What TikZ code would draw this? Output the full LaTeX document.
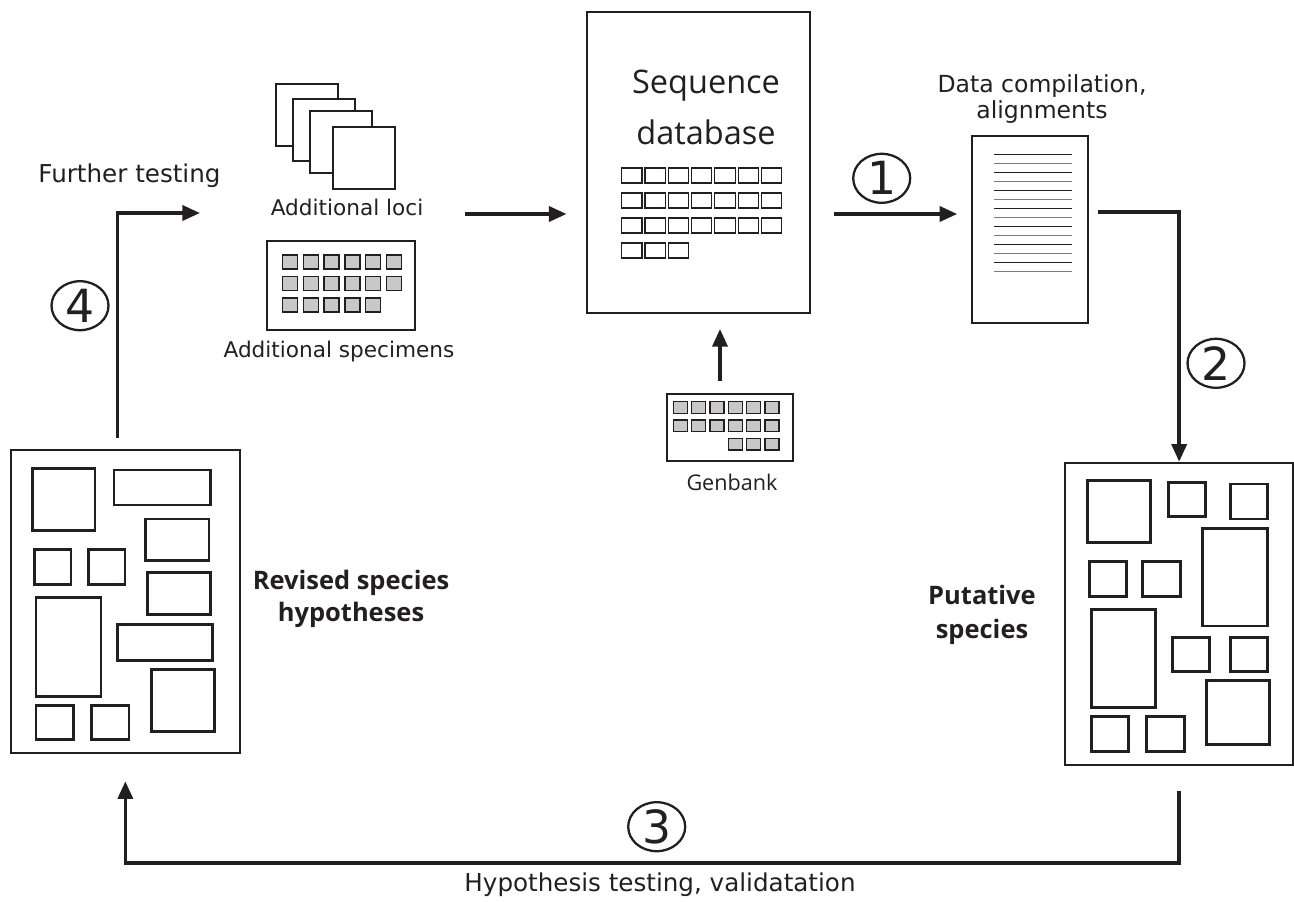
\documentclass[tikz,border=0pt]{standalone}
\usepackage{fontspec}
\setmainfont{DejaVu Sans}
\newfontfamily\myriad{Open Sans}
\usepackage{tikz}
\usetikzlibrary{arrows.meta,positioning,fit,calc,shapes.geometric}
\definecolor{ink}{RGB}{35,31,32}
\definecolor{cellgray}{RGB}{200,200,200}

\begin{document}
\begin{tikzpicture}[x=0.02cm,y=-0.02cm,
  panel/.style={draw=ink,line width=1.1pt,inner sep=0pt,fit={#1}},
  block/.style={draw=ink,line width=1.7pt},
  cell/.style={draw=ink,line width=0.6pt},
  gcell/.style={draw=ink,fill=cellgray,line width=0.8pt},
  page/.style={draw=ink,fill=white,line width=1.1pt},
  flow/.style={draw=ink,line width=2pt,-{Triangle[length=10pt,width=8.5pt]}},
  tag/.style={ellipse,draw=ink,line width=1.3pt,minimum width=1.14cm,minimum height=0.98cm,inner sep=0pt,text=ink,font=\fontsize{26}{26}\selectfont},
  label/.style={text=ink,inner sep=0pt,align=center}]
\useasboundingbox (0,0) rectangle (1294,902);

% boxes
\node[panel={(587,12) (810,313)}] (db) {};
\node[panel={(971.7,136) (1088.3,323.3)}] (align) {};
\node[panel={(267.3,240.7) (415,330)}] (specimens) {};
\node[panel={(667.3,394) (792.7,460.7)}] (genbank) {};
\node[panel={(10.7,450) (240,753.3)}] (revised) {};
\node[panel={(1065,462.7) (1293.3,765)}] (putative) {};

% loci pages
\foreach \px/\py in {275.7/84,293/98.7,310/110.7,333/126.7}
  \draw[page] (\px,\py) rectangle ++(62,62);

% database cells
\foreach \r in {0,1,2}
  \foreach \c in {0,...,6}
    \draw[cell] ({621.7+23.3*\c},{168+25*\r}) rectangle ++(20.3,15);
\foreach \c in {0,1,2}
  \draw[cell] ({621.7+23.3*\c},243) rectangle ++(20.3,15);

% specimen cells
\foreach \r in {0,1}
  \foreach \c in {0,...,5}
    \draw[gcell] ({282.7+20.7*\c},{255+21.5*\r}) rectangle ++(15,14);
\foreach \c in {0,...,4}
  \draw[gcell] ({282.7+20.7*\c},298) rectangle ++(15,14);

% genbank cells
\foreach \r in {0,1}
  \foreach \c in {0,...,5}
    \draw[gcell] ({673.3+18.3*\c},{401.7+18.3*\r}) rectangle ++(14,11.7);
\foreach \c in {3,4,5}
  \draw[gcell] ({673.3+18.3*\c},438.3) rectangle ++(14,11.7);

% alignment lines
\foreach \i in {0,...,13}{
  \pgfmathsetmacro\lc{mod(\i,2)==0 ? "ink" : "ink!60"}
  \draw[\lc,line width=0.7pt] (994,{154.3+9*\i}) -- (1071.7,{154.3+9*\i});
}

% revised species
\foreach \ax/\ay/\bx/\by in {32.3/468.3/95/530.7,114/470/210.7/505,145.7/519/209/560.7,
    34.3/549.3/71/584.3,88.3/549.3/125/584.3,147.3/572.7/210.7/614.3,36/597.3/101/696,
    117.7/624.3/212.3/660,151.7/669/214.3/731.7,36/705/73.3/739.3,91.7/705/129/739.3}
  \draw[block] (\ax,\ay) rectangle (\bx,\by);

% putative species
\foreach \ax/\ay/\bx/\by in {1087.3/480.7/1150/542.7,1168.3/482.3/1205.7/516.7,1230/484/1267.3/519,
    1202.7/528.3/1267.3/626,1089.3/561.7/1126/596.7,1142.7/561.7/1180/596.7,1091/609.3/1155.7/707.3,
    1172.3/637.3/1209.3/671.7,1230/637.3/1267.3/671.7,1206.7/680.7/1269.3/744,
    1091/716.7/1128.3/751.7,1146.7/716.7/1184/751.7}
  \draw[block] (\ax,\ay) rectangle (\bx,\by);

% labels
\node[label,font=\fontsize{14}{14}\selectfont] (further) at (129.5,176) {Further testing};
\node[label,font=\fontsize{12.3}{12.3}\selectfont] (lociname) at (347,207) {Additional loci};
\node[label,font=\fontsize{12.3}{12.3}\selectfont] (specname) at (339,352) {Additional specimens};
\node[label,font=\myriad\fontsize{18.5}{29}\selectfont] (dbname) at (706,107) {Sequence\\database};
\node[label,font=\fontsize{13.4}{14.5}\selectfont] (alignname) at (1042,99) {Data compilation,\\alignments};
\node[label,font=\myriad\fontsize{12.3}{12.3}\selectfont] (gbname) at (732,482) {Genbank};
\node[label,font=\myriad\bfseries\fontsize{14.5}{18}\selectfont] (revname) at (351,599) {Revised species\\hypotheses};
\node[label,font=\myriad\bfseries\fontsize{14.5}{19}\selectfont] (putname) at (982,615) {Putative\\species};
\node[label,font=\fontsize{14}{14}\selectfont] (testname) at (660,885) {Hypothesis testing, validatation};

\node[tag] (tag1) at (881.7,178.3) {1};
\node[tag] (tag2) at (1216,363.3) {2};
\node[tag] (tag3) at (656.7,826.7) {3};
\node[tag] (tag4) at (80,305.7) {4};

% connectors
\coordinate (row) at (0,214);
\coordinate (lociout) at (465,214);
\coordinate (further in) at (200,213);
\coordinate (gbx) at (720,0);
\draw[flow,shorten >=0.39cm] (lociout) -- (db.west |- row);
\draw[flow,shorten <=0.46cm,shorten >=0.27cm] (db.east |- row) -- (align.west |- row);
\draw[flow,shorten <=0.18cm] ($(align.east)+(0,-17.5)$) -| (putative.north);
\draw[flow,shorten <=0.5cm,shorten >=0.54cm] (putative.south) -- ++(0,97) -| (revised.south);
\draw[flow] ($(revised.north)+(-8,-11)$) |- (further in);
\draw[flow,shorten <=0.24cm,shorten >=0.3cm] (genbank.north -| gbx) -- (db.south -| gbx);
\end{tikzpicture}
\end{document}
